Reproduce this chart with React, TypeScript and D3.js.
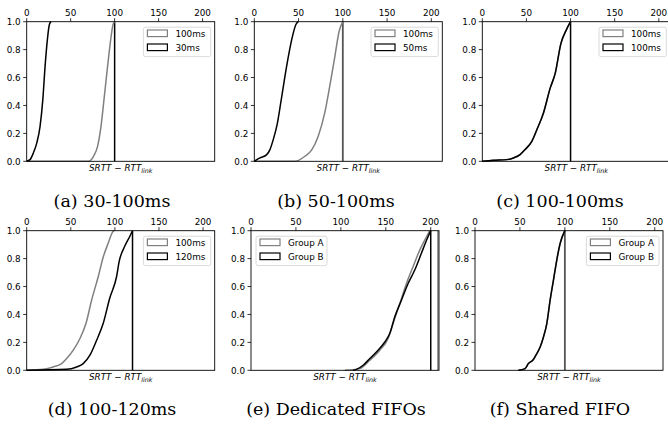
import * as d3 from 'd3';

// tick labels
const xTicks = [0, 50, 100, 150, 200];
const yTicks = [0, 0.2, 0.4, 0.6, 0.8, 1.0];

// CDF points: [SRTT - RTT_link, fraction]
const a100ms = [[0, 0], [70.3, 0], [76, 0.036], [80.6, 0.107], [84.5, 0.25], [88.2, 0.46], [92, 0.68], [95.1, 0.85], [98.2, 0.98], [100, 1]];
const a30ms = [[0, 0], [3.8, 0.012], [7.6, 0.06], [11.4, 0.13], [15.2, 0.25], [18.3, 0.44], [20.9, 0.68], [23.5, 0.87], [25.8, 0.98], [27.7, 1]];

const b100ms = [[0, 0], [45.9, 0], [57.2, 0.036], [64.7, 0.08], [72.2, 0.18], [79.7, 0.35], [85.3, 0.54], [91, 0.75], [95.8, 0.93], [100, 1]];
const b50ms = [[0, 0], [6.4, 0.024], [14, 0.048], [17.7, 0.084], [21.4, 0.155], [26, 0.27], [30.9, 0.46], [36.5, 0.68], [42.2, 0.87], [47, 0.98], [49.6, 1]];

const c100msA = [[0, 0], [12.5, 0.007], [27.7, 0.012], [35.2, 0.024], [42.8, 0.048], [48.5, 0.084], [56.1, 0.143], [61.8, 0.226], [69.3, 0.346], [76.9, 0.524], [82.6, 0.63], [89.1, 0.845], [95.1, 0.94], [100, 1]];
const c100msB = [[0, 0], [12.5, 0.007], [27.7, 0.012], [35.2, 0.024], [42.8, 0.048], [48.5, 0.084], [56.1, 0.143], [61.8, 0.226], [69.3, 0.346], [76.9, 0.524], [82.6, 0.63], [89.1, 0.845], [95.1, 0.94], [100, 1]];

const d100ms = [[0, 0], [18.8, 0.007], [30.1, 0.024], [39.6, 0.048], [45.3, 0.084], [52.8, 0.144], [60.4, 0.228], [67.2, 0.335], [73.6, 0.502], [81.1, 0.67], [86.7, 0.81], [92.4, 0.91], [97.4, 0.99], [99, 1]];
const d120ms = [[0, 0], [45.3, 0.007], [56.6, 0.024], [64.1, 0.048], [71.7, 0.108], [79.3, 0.215], [86.7, 0.335], [94.3, 0.52], [101.9, 0.67], [104.9, 0.78], [111.3, 0.89], [117, 0.96], [120, 1]];

const eGroupA = [[104.4, 0], [121.1, 0.012], [132.2, 0.072], [143.3, 0.144], [152.6, 0.228], [158.1, 0.335], [165.6, 0.479], [173, 0.622], [180.3, 0.742], [187.8, 0.861], [194.4, 0.945], [198.9, 1]];
const eGroupB = [[113.7, 0], [117.4, 0.007], [124.8, 0.036], [132.2, 0.084], [141.4, 0.144], [148.9, 0.203], [154.4, 0.263], [160, 0.383], [167.4, 0.502], [174.8, 0.622], [182.2, 0.718], [189.7, 0.84], [195.2, 0.93], [200, 1]];

const fGroupA = [[48.3, 0], [55.7, 0.012], [59.4, 0.048], [64.3, 0.072], [68.8, 0.12], [72.5, 0.167], [76.2, 0.239], [79.9, 0.335], [83.6, 0.502], [87.3, 0.646], [91, 0.79], [94.8, 0.91], [100, 1]];
const fGroupB = [[48.3, 0], [55.7, 0.012], [59.4, 0.048], [64.3, 0.072], [68.8, 0.12], [72.5, 0.167], [76.2, 0.239], [79.9, 0.335], [83.6, 0.502], [87.3, 0.646], [91, 0.79], [94.8, 0.91], [100, 1]];

const captions = ['(a) 30-100ms', '(b) 50-100ms', '(c) 100-100ms', '(d) 100-120ms', '(e) Dedicated FIFOs', '(f) Shared FIFO'];
const legendLabels = [['100ms', '30ms'], ['100ms', '50ms'], ['100ms', '100ms'], ['100ms', '120ms'], ['Group A', 'Group B'], ['Group A', 'Group B']];
const grayCurves = [a100ms, b100ms, c100msA, d100ms, eGroupA, fGroupA];
const blackCurves = [a30ms, b50ms, c100msB, d120ms, eGroupB, fGroupB];
const xMax = [213.8, 212.4, 213, 213.2, 209.2, 209.2];
const markerLines = [
  [{ x: 100, color: '#000' }],
  [{ x: 100, color: '#555' }],
  [{ x: 100, color: '#000' }],
  [{ x: 120, color: '#000' }],
  [{ x: 200, color: '#000' }, { x: 208, color: '#808080' }],
  [{ x: 100, color: '#555' }],
];

const GRAY = '#808080';
const FS = 8.8;

const layout = [
  { left: 26.7, top: 21.7, upperLeft: false },
  { left: 254.3, top: 21.7, upperLeft: false },
  { left: 482.3, top: 21.7, upperLeft: false },
  { left: 26.7, top: 230.7, upperLeft: false },
  { left: 251, top: 230.7, upperLeft: true },
  { left: 475, top: 230.7, upperLeft: false },
];
const PW = 188;
const PH = 139.6;

function Panel({ i }: { i: number }) {
  const { left, top, upperLeft } = layout[i];
  const x = d3.scaleLinear().domain([0, xMax[i]]).range([left, left + PW]);
  const y = d3.scaleLinear().domain([0, 1]).range([top + PH, top]);
  const line = d3.line<number[]>().x(d => x(d[0])).y(d => y(d[1])).curve(d3.curveMonotoneX);

  const labels = legendLabels[i];
  const lw = upperLeft ? 71 : (labels[0].length > 5 ? 72.6 : 67.3);
  const lx = upperLeft ? left + 5 : left + PW - 4 - lw;
  const ly = top + 5.5;

  return (
    <g>
      {markerLines[i].map((m, k) => (
        <line key={k} x1={x(m.x)} x2={x(m.x)} y1={y(0)} y2={y(1)} stroke={m.color} strokeWidth={m.color === '#555' ? 1.8 : 1.5} />
      ))}
      <path d={line(grayCurves[i] as number[][]) || ''} fill="none" stroke={GRAY} strokeWidth={1.5} />
      <path d={line(blackCurves[i] as number[][]) || ''} fill="none" stroke="#000" strokeWidth={1.5} />
      <rect x={left} y={top} width={PW} height={PH} fill="none" stroke="#000" strokeWidth={0.9} />
      {xTicks.map(t => (
        <g key={t}>
          <line x1={x(t)} x2={x(t)} y1={top} y2={top - 3.5} stroke="#000" strokeWidth={0.8} />
          <text x={x(t)} y={top - 5.6} textAnchor="middle" fontSize={FS} fontFamily="DejaVu Sans">{t}</text>
        </g>
      ))}
      {yTicks.map(t => (
        <g key={t}>
          <line x1={left} x2={left - 3.5} y1={y(t)} y2={y(t)} stroke="#000" strokeWidth={0.8} />
          <text x={left - 6} y={y(t) + 3.2} textAnchor="end" fontSize={FS} fontFamily="DejaVu Sans">{t.toFixed(1)}</text>
        </g>
      ))}
      <text x={left + PW / 2} y={top + PH + 10} textAnchor="middle" fontSize={FS} fontFamily="DejaVu Sans" fontStyle="italic">
        SRTT − RTT<tspan fontSize={6.3} dy={2}>link</tspan>
      </text>
      <g>
        <rect x={lx} y={ly} width={lw} height={29.4} rx={2} fill="#fff" fillOpacity={0.8} stroke="#d0d0d0" strokeWidth={0.8} />
        {labels.map((lab, k) => (
          <g key={k}>
            <rect x={lx + 4} y={ly + 2.8 + k * 14} width={20} height={6.6} fill="#fff" stroke={k === 0 ? GRAY : '#000'} strokeWidth={1.2} />
            <text x={lx + 32} y={ly + 9.4 + k * 14} fontSize={FS} fontFamily="DejaVu Sans">{lab}</text>
          </g>
        ))}
      </g>
    </g>
  );
}

export default function App() {
  const capX = [112, 336, 560];
  const capY = [207, 415];
  return (
    <div style={{ position: 'absolute', left: 0, top: 0 }}>
      <svg width={668} height={426} style={{ display: 'block', background: '#fff' }}>
        {layout.map((_, i) => <Panel key={i} i={i} />)}
        {captions.map((c, i) => (
          <text key={c} x={capX[i % 3]} y={capY[Math.floor(i / 3)]} textAnchor="middle" fontSize={17.5} fontFamily="DejaVu Serif">{c}</text>
        ))}
      </svg>
    </div>
  );
}
